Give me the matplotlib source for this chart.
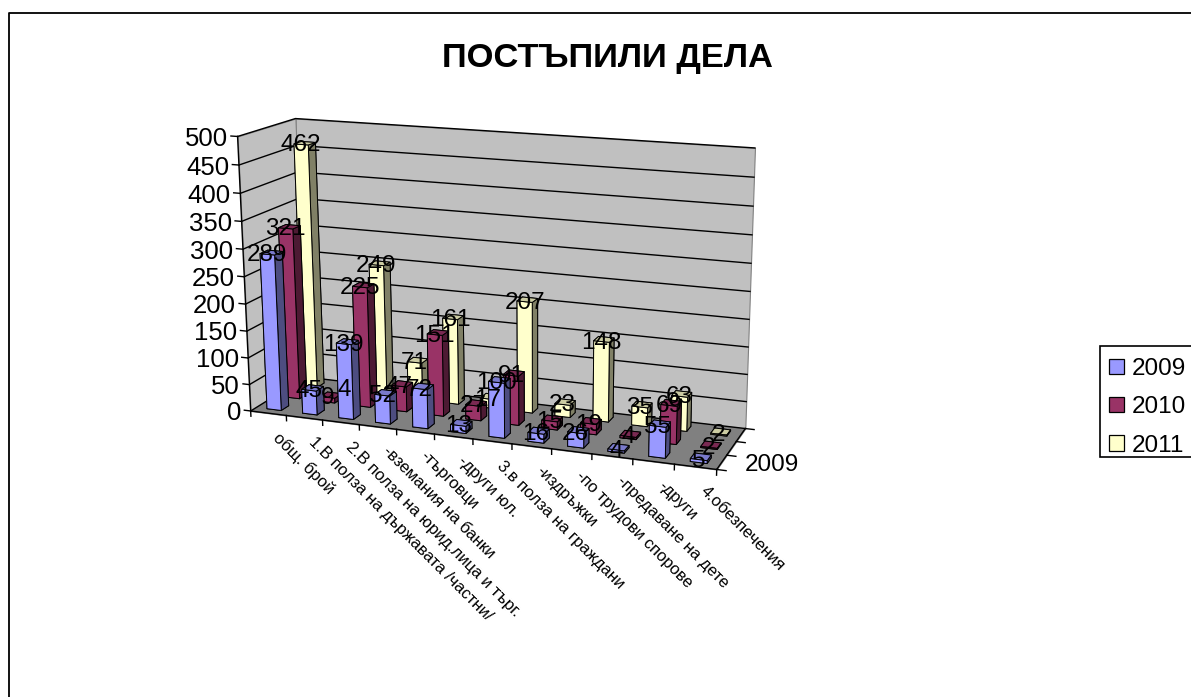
import numpy as np
import matplotlib
matplotlib.use("Agg")
import matplotlib.pyplot as plt
from matplotlib.lines import Line2D
from matplotlib.patches import Patch, Rectangle
from mpl_toolkits.mplot3d.art3d import Poly3DCollection

plt.rcParams['font.family'] = ['Liberation Sans', 'DejaVu Sans']

title = "ПОСТЪПИЛИ ДЕЛА"
categories = ["общ. брой", "1.В полза на държавата /частни/", "2.В полза на юрид.лица и търг.",
              "-вземания на банки", "-търговци", "-други юл.", "3.в полза на граждани",
              "-издръжки", "-по трудови спорове", "-предаване на дете", "-други", "4.обезпечения"]
series_names = ["2009", "2010", "2011"]
v2009 = [289, 45, 139, 52, 72, 13, 100, 16, 26, 4, 55, 5]
v2010 = [321, 9, 225, 47, 151, 27, 91, 15, 19, 4, 69, 2]
v2011 = [462, 4, 249, 71, 161, 17, 207, 23, 148, 35, 63, 2]
yticks = [0, 50, 100, 150, 200, 250, 300, 350, 400, 450, 500]

series = [v2009, v2010, v2011]
front = ['#9999FF', '#993366', '#FFFFCC']
top = ['#7A7ACC', '#7A2952', '#CCCCA3']
side = ['#4D4D80', '#4D1A33', '#808066']

W, H = 1191, 697
nx, ny, zmax = len(categories), len(series), yticks[-1]

# camera: homography fitted to the corners of the box of the chart (pixels)
corners = [((0, 0, 0), (250, 410)), ((nx, 0, 0), (717, 470)), ((0, ny, 0), (306, 378)),
           ((nx, ny, 0), (745, 428)), ((0, 0, zmax), (238, 137)), ((0, ny, zmax), (295, 118)),
           ((nx, ny, zmax), (755, 148))]
A = []
for (x, y, z), (u, v) in corners:
    v = H - v
    A.append([x, y, z, 1, 0, 0, 0, 0, -u * x, -u * y, -u * z, -u])
    A.append([0, 0, 0, 0, x, y, z, 1, -v * x, -v * y, -v * z, -v])
P = np.linalg.svd(np.array(A, float))[2][-1].reshape(3, 4)
if P[2, 3] < 0:
    P = -P
P = P / P[2, 3]
M = np.array([P[0], P[1], [-0.02, 0.1, -0.002, 1.0], P[2]])


def proj(x, y, z):
    p = P @ np.array([x, y, z, 1.0])
    return p[0] / p[2], p[1] / p[2]


fig = plt.figure(figsize=(W / 100, H / 100), dpi=100, facecolor='white')
ax = fig.add_axes([0, 0, 1, 1], projection='3d', computed_zorder=False)
ax.set_proj_type('ortho')
ax.apply_aspect = lambda position=None: None
ax.get_proj = lambda: M
ax.set_axis_off()
ax.patch.set_visible(False)
ax.viewLim.set_points(np.array([[0.0, 0.0], [float(W), float(H)]]))

# walls and floor
wall = dict(edgecolors='#808080', linewidths=0.8, zorder=1)
ax.add_collection3d(Poly3DCollection([[(0, ny, 0), (nx, ny, 0), (nx, ny, zmax), (0, ny, zmax)]], facecolors='#C0C0C0', **wall))
ax.add_collection3d(Poly3DCollection([[(0, 0, 0), (0, ny, 0), (0, ny, zmax), (0, 0, zmax)]], facecolors='#C0C0C0', **wall))
ax.add_collection3d(Poly3DCollection([[(0, 0, 0), (nx, 0, 0), (nx, ny, 0), (0, ny, 0)]], facecolors='#808080', **wall))

# gridlines and axes
for t in yticks:
    ax.plot([0, 0, nx], [0, ny, ny], [t, t, t], color='black', lw=1.0, zorder=2)
    ax.plot([-0.18, 0], [0, 0], [t, t], color='black', lw=1.0, zorder=2)
    ax.annotate(str(t), xy=proj(-0.18, 0, t), xytext=(-3, -3), textcoords='offset pixels',
                ha='right', va='center', fontsize=18.5, color='black', zorder=30)
ax.plot([0, 0], [0, 0], [0, zmax], color='black', lw=1.0, zorder=2)
ax.plot([0, nx, nx], [0, 0, ny], [0, 0, 0], color='black', lw=1.0, zorder=2)
for i in range(nx + 1):
    ax.plot([i, i], [0, 0], [0, -10], color='black', lw=1.0, zorder=2)
for j in range(ny + 1):
    ax.plot([nx, nx + 0.22], [j, j], [0, 0], color='black', lw=1.0, zorder=2)
ax.annotate(series_names[0], xy=proj(nx + 0.55, 0.5, 0), ha='left', va='center', fontsize=17.5, zorder=30)

# bars, back row first
bar_w = 0.4
for j in range(ny - 1, -1, -1):
    for i in range(nx):
        colors = [top[j], top[j], front[j], side[j], side[j], side[j]]
        ax.bar3d(i + 0.3, j + 0.3, 0, bar_w, bar_w, series[j][i], color=colors, shade=False,
                 edgecolor='black', linewidth=0.7, zorder=5 + (ny - j) * 100 + i * 0.1 - 100)

# data labels
for j in range(ny):
    for i in range(nx):
        ax.annotate(str(series[j][i]), xy=proj(i + 0.5, j + 0.3, series[j][i]), xytext=(0, -1),
                    textcoords='offset pixels', ha='center', va='center',
                    fontsize=17.5, color='black', zorder=400)

# category labels
for i, c in enumerate(categories):
    ax.annotate(c, xy=proj(i + 0.5, 0, 0), xytext=(7, -22), textcoords='offset pixels', rotation=-45,
                rotation_mode='anchor', ha='left', va='center', fontsize=12, color='black', zorder=30)

fig.text(607 / W, 1 - 59 / H, title, ha='center', va='center', fontsize=24.8, fontweight='bold')

# chart area border (right and bottom lie outside the picture)
fig.add_artist(Line2D([9 / W, 9 / W, 1], [0, 1 - 12.5 / H, 1 - 12.5 / H], color='black', lw=1.3))

# legend: frame drawn apart because its padding is not even in the reference
fig.add_artist(Rectangle((1100 / W, 1 - 457 / H), 100 / W, 111 / H, transform=fig.transFigure,
                         facecolor='white', edgecolor='black', linewidth=1.2, zorder=3))
handles = [Patch(facecolor=front[k], edgecolor='black', linewidth=0.9, label=series_names[k]) for k in range(ny)]
leg = fig.legend(handles=handles, loc='upper left', bbox_to_anchor=(1098 / W, 1 - 347 / H), borderaxespad=0,
                 fontsize=17.5, frameon=False, handlelength=0.6, handleheight=0.6, handletextpad=0.35,
                 labelspacing=0.67, borderpad=0.45)
leg.set_zorder(4)

fig.savefig('out.png', dpi=100, facecolor='white')
